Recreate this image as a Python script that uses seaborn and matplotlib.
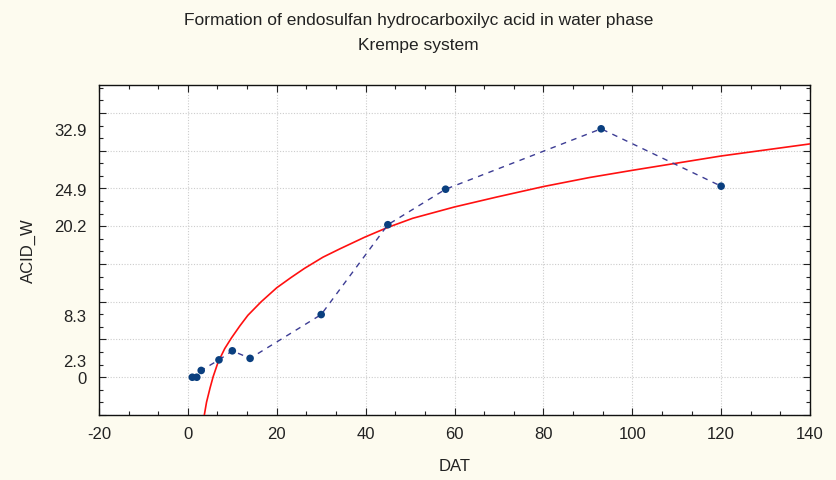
import matplotlib
matplotlib.use("Agg")
import matplotlib.pyplot as plt
from matplotlib.ticker import MultipleLocator, AutoMinorLocator
import seaborn as sns
import pandas as pd

# observed data
dat = [1, 2, 3, 7, 10, 14, 30, 45, 58, 93, 120]
acid_w = [0, 0, 0.9, 2.3, 3.5, 2.5, 8.3, 20.2, 24.9, 32.9, 25.3]

# fitted curve
curve_x = [3.7, 4.2, 5.0, 5.7, 6.8, 8.3, 9.8, 11.7, 13.5, 16.5, 20, 23.2, 26.2,
           30.4, 34.2, 39.8, 44.8, 50.6, 60, 69.4, 80, 90.4, 100, 120, 140]
curve_y = [-5, -3.3, -1.4, 0.1, 2.0, 3.8, 5.2, 6.8, 8.2, 10.0, 11.85, 13.2, 14.4,
           15.9, 17.0, 18.55, 19.8, 21.05, 22.55, 23.85, 25.25, 26.45, 27.4, 29.3, 30.9]

# labelled y ticks
ytick_vals = [0, 2.3, 8.3, 20.2, 24.9, 32.9]
ytick_labels = ["0", "2.3", "8.3", "20.2", "24.9", "32.9"]
xticks = [-20, 0, 20, 40, 60, 80, 100, 120, 140]

title = "Formation of endosulfan hydrocarboxilyc acid in water phase\nKrempe system"

sns.set_theme(style="white")
plt.rcParams["font.family"] = ["Liberation Sans", "DejaVu Sans"]
plt.rcParams["axes.unicode_minus"] = False

bg = "#fdfbef"
fig = plt.figure(figsize=(8.37, 4.81), dpi=100, facecolor=bg)
ax = fig.add_axes([99 / 837, 1 - 416 / 481, (810 - 99) / 837, (416 - 86) / 481])
ax.set_facecolor("white")

df = pd.DataFrame({"DAT": dat, "ACID_W": acid_w})
cf = pd.DataFrame({"x": curve_x, "y": curve_y})

sns.lineplot(data=cf, x="x", y="y", ax=ax, color="#ff1010", linewidth=1.2,
             sort=False, estimator=None, zorder=3)
sns.lineplot(data=df, x="DAT", y="ACID_W", ax=ax, color="#3c3c94", linewidth=1.0,
             linestyle=(0, (4, 4)), sort=False, estimator=None, zorder=4)
sns.scatterplot(data=df, x="DAT", y="ACID_W", ax=ax, color="#0a3f7f", s=30,
                edgecolor="none", zorder=5)

ax.set_xlim(-20, 140)
ax.set_ylim(-5, 38.7)

ax.set_xticks(xticks)
ax.xaxis.set_minor_locator(AutoMinorLocator(3))
ax.yaxis.set_major_locator(MultipleLocator(5))
ax.yaxis.set_minor_locator(AutoMinorLocator(3))
ax.set_yticklabels([])
ax.tick_params(axis="both", which="both", direction="in", top=True, right=True,
               left=True, bottom=True, colors="#222222")
ax.tick_params(axis="both", which="major", length=5, width=0.8)
ax.tick_params(axis="both", which="minor", length=3, width=0.8)
ax.tick_params(axis="x", which="major", labelsize=12, pad=8, labelcolor="#222222")

ax.grid(True, which="major", color="#cccccc", linestyle=(0, (1, 1.5)), linewidth=0.8)
for s in ax.spines.values():
    s.set_color("#111111")
    s.set_linewidth(1.0)

# labelled y axis at the data values
sec = ax.secondary_yaxis("left")
sec.set_yticks(ytick_vals)
sec.set_yticklabels(ytick_labels)
sec.tick_params(axis="y", length=0, labelsize=12, pad=9, labelcolor="#222222")
sec.spines["left"].set_visible(False)

ax.set_xlabel("DAT", fontsize=12, color="#222222", labelpad=12)
ax.set_ylabel("")
fig.text(28 / 837, 1 - 251 / 481, "ACID_W", rotation=90, ha="center", va="center",
         fontsize=12, color="#222222")

fig.text(0.5, 1 - 33 / 481, title, ha="center", va="center", fontsize=12.5,
         color="#222222", linespacing=1.8)

fig.savefig("out.png", dpi=100, facecolor=bg)
